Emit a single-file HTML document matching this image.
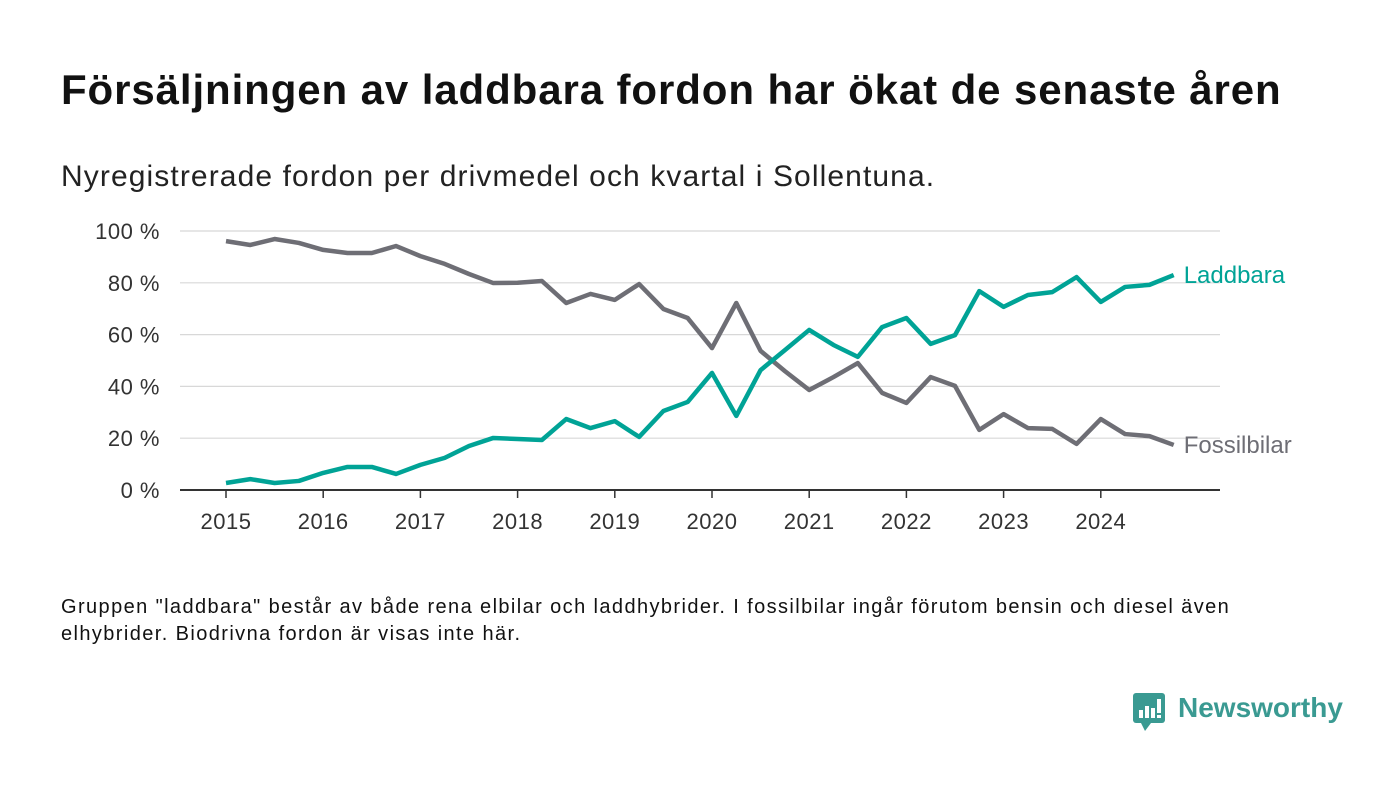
<!DOCTYPE html>
<html><head><meta charset="utf-8"><style>
body{margin:0;background:#fff;font-family:"Liberation Sans",sans-serif;}
#wrap{position:relative;width:1400px;height:793px;overflow:hidden;}
.t{position:absolute;white-space:nowrap;}
</style></head><body>
<div id="wrap">
<div class="t" style="left:61px;top:66px;font-size:42px;letter-spacing:0.9px;font-weight:bold;color:#111;">Försäljningen av laddbara fordon har ökat de senaste åren</div>
<div class="t" style="left:61px;top:160px;font-size:30px;letter-spacing:1.1px;color:#222;">Nyregistrerade fordon per drivmedel och kvartal i Sollentuna.</div>
<svg id="chart" width="1400" height="793" style="position:absolute;left:0;top:0"></svg>
<div class="t" style="left:61px;top:594px;font-size:20px;letter-spacing:1.4px;line-height:27px;color:#111;white-space:normal;width:1250px;">Gruppen "laddbara" består av både rena elbilar och laddhybrider. I fossilbilar ingår förutom bensin och diesel även elhybrider. Biodrivna fordon är visas inte här.</div>
<div style="position:absolute;left:1133px;top:693px;">
<svg width="34" height="42"><rect x="0" y="0" width="32" height="30" rx="3" fill="#3a9a92"/><polygon points="8,30 18,30 12,38" fill="#3a9a92"/><rect x="6" y="17" width="4" height="8" fill="#fff"/><rect x="12" y="13" width="4" height="12" fill="#fff"/><rect x="18" y="15" width="4" height="10" fill="#fff"/><rect x="24" y="6" width="4" height="14" fill="#fff"/><rect x="24" y="22" width="4" height="3" fill="#fff"/></svg>
<span class="t" style="left:45px;top:-1px;font-size:28px;font-weight:bold;color:#3a9a92;">Newsworthy</span>
</div>
</div>
<script>
const years=["2015","2016","2017","2018","2019","2020","2021","2022","2023","2024"];
const yTicks=[0,20,40,60,80,100];
const fossil=[96.1,94.6,96.9,95.4,92.7,91.5,91.5,94.2,90.3,87.3,83.4,79.9,80,80.7,72.2,75.7,73.4,79.5,69.9,66.4,54.8,72.2,53.7,45.9,38.6,43.6,49,37.5,33.6,43.6,40.2,23.2,29.3,23.9,23.6,17.8,27.4,21.6,20.8,17.4];
const laddbara=[2.7,4.2,2.7,3.5,6.6,8.9,8.9,6.2,9.7,12.4,17,20.1,19.7,19.3,27.4,23.9,26.6,20.5,30.5,34,45.2,28.6,46.3,54,61.8,56,51.4,62.9,66.4,56.4,59.8,76.8,70.7,75.3,76.4,82.2,72.6,78.4,79.2,83];
const svg=document.getElementById('chart');const NS='http://www.w3.org/2000/svg';
const x=i=>226+i*24.3, y=v=>490-v*2.59;
function mk(t,a){const e=document.createElementNS(NS,t);for(const k in a)e.setAttribute(k,a[k]);svg.appendChild(e);return e;}
yTicks.forEach(v=>{
 const l=mk('line',{x1:180,x2:1220,y1:y(v),y2:y(v),stroke:v?'#d8d8d8':'#333','stroke-width':v?1.2:2});
 
 
 const t=mk('text',{x:160,y:y(v)+8,'text-anchor':'end','font-size':22,'letter-spacing':0.5,fill:'#333','font-family':'Liberation Sans'});t.textContent=v+' %';
 
 
});
years.forEach((yr,k)=>{
 const xx=x(k*4);
 const tk=mk('line',{x1:xx,x2:xx,y1:490,y2:498,stroke:'#333','stroke-width':1.5});
 
 
 const t=mk('text',{x:xx,y:529,'text-anchor':'middle','font-size':22,'letter-spacing':0.5,fill:'#333','font-family':'Liberation Sans'});t.textContent=yr;
 
 
});
function line(d,c,name,label){
 const p=mk('polyline',{points:d.map((v,i)=>x(i)+','+y(v)).join(' '),fill:'none',stroke:c,'stroke-width':4.5,'stroke-linejoin':'round'});
 
 
 const t=mk('text',{x:x(d.length-1)+10,y:y(d[d.length-1])+8,'font-size':24,fill:c,'font-family':'Liberation Sans'});t.textContent=label;
 
 
}
line(fossil,'#6e6e75','fossilbilar','Fossilbilar');
line(laddbara,'#00a396','laddbara','Laddbara');
</script>
</body></html>
